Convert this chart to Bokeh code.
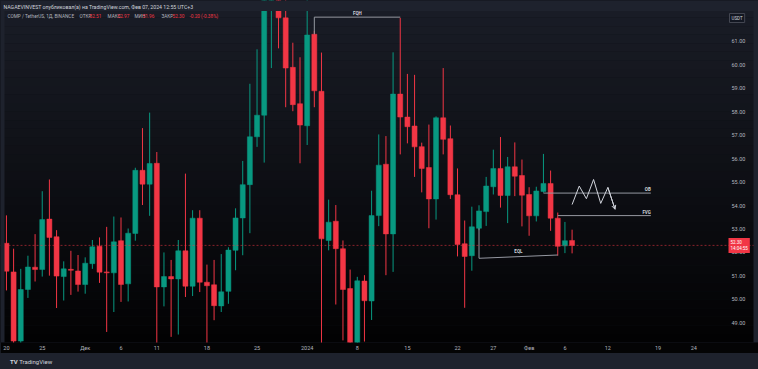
import numpy as np
import pandas as pd
from bokeh.plotting import figure
from bokeh.models import (FixedTicker, NumeralTickFormatter, Span, Label, BoxAnnotation,
                          Arrow, OpenHead, ColumnDataSource, Div, GlobalInlineStyleSheet)
from bokeh.layouts import column
from bokeh.embed import file_html
from bokeh.resources import INLINE
from bokeh.core.properties import value

# ---------------- data ----------------
start_date = "2023-11-20"
opens = [52.39, 51.17, 48.22, 50.42, 51.37, 51.27, 53.42, 52.67, 50.97, 51.28,
         51.21, 50.63, 51.52, 52.26, 51.17, 51.13, 52.50, 50.66, 52.81, 55.50,
         54.91, 55.80, 50.53, 50.97, 50.87, 52.07, 50.56, 53.46, 50.73, 50.62,
         49.72, 50.34, 52.09, 53.47, 54.89, 56.93, 57.85, 62.95, 63.10, 62.00,
         59.89, 58.34, 57.40, 61.30, 58.87, 52.51, 53.33, 52.16, 50.46, 48.10,
         50.78, 49.93, 53.57, 55.76, 52.79, 58.75, 57.77, 57.39, 56.51, 55.62,
         54.28, 57.74, 56.85, 54.46, 52.37, 51.86, 53.03, 53.74, 54.80, 55.58,
         54.43, 55.65, 55.28, 54.47, 53.56, 54.60, 54.94, 53.46, 52.28, 52.51]
highs = [53.58, 52.16, 51.30, 51.86, 52.78, 54.61, 55.11, 52.95, 51.62, 52.07,
         51.89, 51.79, 52.53, 52.64, 53.09, 53.53, 53.49, 53.02, 55.61, 57.30,
         57.96, 56.28, 52.00, 51.68, 52.53, 55.36, 53.80, 53.80, 51.48, 51.68,
         51.93, 52.22, 53.88, 55.90, 59.19, 60.66, 63.20, 63.30, 63.00, 62.90,
         60.94, 60.32, 62.90, 61.45, 60.52, 54.25, 54.02, 52.51, 51.27, 50.96,
         51.03, 54.63, 57.03, 56.96, 60.53, 62.00, 59.61, 59.57, 56.68, 57.45,
         57.80, 59.86, 57.41, 55.58, 53.36, 53.95, 54.01, 55.22, 56.38, 56.92,
         56.07, 56.69, 55.96, 54.78, 54.80, 56.20, 55.49, 53.70, 53.30, 52.97]
lows = [50.38, 47.90, 47.90, 50.06, 50.76, 50.97, 51.01, 49.63, 49.95, 50.19,
        50.33, 50.24, 51.30, 50.70, 48.61, 49.46, 49.89, 49.91, 52.50, 54.02,
        53.56, 48.05, 49.70, 48.40, 48.50, 50.10, 50.14, 50.31, 48.05, 49.11,
        49.46, 49.81, 51.24, 51.88, 52.82, 56.50, 55.83, 59.86, 60.70, 58.19,
        58.02, 55.80, 56.58, 58.19, 48.05, 52.09, 49.78, 48.25, 47.90, 47.90,
        48.20, 49.12, 53.12, 51.03, 51.17, 56.18, 56.65, 55.22, 54.56, 53.03,
        53.40, 56.18, 54.28, 51.83, 49.64, 51.22, 52.95, 53.13, 54.47, 53.91,
        53.25, 54.40, 53.11, 52.71, 53.32, 54.55, 52.92, 51.86, 51.97, 51.96]
closes = [51.20, 48.22, 50.42, 51.38, 51.27, 53.40, 52.64, 50.99, 51.30, 51.24,
          50.63, 51.54, 52.24, 51.16, 51.13, 52.45, 50.63, 52.82, 55.50, 54.91,
          55.79, 50.53, 50.97, 50.87, 52.07, 50.56, 53.46, 50.73, 50.58, 49.73,
          50.32, 52.10, 53.47, 54.89, 56.93, 57.85, 62.95, 63.10, 62.00, 59.86,
          58.30, 57.43, 61.27, 58.89, 52.58, 53.29, 52.16, 50.42, 48.10, 50.79,
          49.94, 53.57, 55.72, 52.79, 58.75, 57.77, 57.36, 56.50, 55.58, 54.28,
          57.74, 56.82, 54.46, 52.34, 51.83, 53.09, 53.77, 54.83, 55.58, 54.43,
          55.65, 55.25, 54.44, 53.56, 54.62, 54.94, 53.46, 52.26, 52.50, 52.30]

tick_dates = ["2023-11-20", "2023-11-25", "2023-12-01", "2023-12-06", "2023-12-11",
              "2023-12-18", "2023-12-25", "2024-01-01", "2024-01-08", "2024-01-15",
              "2024-01-22", "2024-01-27", "2024-02-01", "2024-02-06", "2024-02-12",
              "2024-02-19", "2024-02-24"]
tick_labels = ["20", "25", "Дек", "6", "11", "18", "25", "2024", "8", "15",
               "22", "27", "Фев", "6", "12", "19", "24"]
price_ticks = [49, 50, 51, 52, 53, 54, 55, 56, 57, 58, 59, 60, 61]

# drawings on the chart (time, price)
fqh_dates = ["2024-01-02", "2024-01-02", "2024-01-14"]
fqh_prices = [61.30, 62.03, 62.03]
eql_dates = ["2024-01-25", "2024-01-25", "2024-02-05"]
eql_prices = [53.03, 51.75, 51.89]
ob_dates = ["2024-02-03", "2024-02-18"]
ob_price = 54.53
fvg_dates = ["2024-02-05", "2024-02-18"]
fvg_price = 53.57
path_dates = ["2024-02-07", "2024-02-08", "2024-02-09", "2024-02-10",
              "2024-02-11", "2024-02-12", "2024-02-13"]
path_prices = [54.04, 54.83, 54.29, 55.11, 54.09, 54.77, 53.84]

# ---------------- helpers ----------------
REF = pd.Timestamp("2024-01-01")


def to_days(ds):
    return [(pd.Timestamp(d) - REF).days for d in ds]


dates = pd.date_range(start_date, periods=len(opens), freq="D")
days = np.array([(d - REF).days for d in dates], dtype=float)
o = np.array(opens); h = np.array(highs); l = np.array(lows); c = np.array(closes)
up = c >= o

UP = "#089981"
DOWN = "#f23645"
TXT = "#b2b5be"
FONT = "Roboto"
BAND = "#1e222d"

W, H = 758, 353
FRAME_H = 344
X0 = -42.83
X1 = X0 + W / 7.16
Y0, Y1 = 48.16, 62.74
ppu = FRAME_H / (Y1 - Y0)

p = figure(width=W, height=H, x_range=(X0, X1), y_range=(Y0, Y1),
           output_backend="svg", toolbar_location=None, y_axis_location="right",
           min_border_left=0, min_border_top=0, min_border_right=0,
           min_border_bottom=H - FRAME_H)
p.outline_line_color = None
p.grid.visible = False
p.background_fill_color = "#0e1016"
p.border_fill_color = "#040405"

# vertical gradient of the TradingView dark theme
top_rgb = np.array([26, 29, 39])
bot_rgb = np.array([2, 2, 3])
n_bands = 40
step = (Y1 - Y0) / n_bands
for i in range(n_bands):
    t = (i + 0.5) / n_bands
    rgb = (top_rgb * (1 - t) + bot_rgb * t).round().astype(int)
    col = "#%02x%02x%02x" % tuple(rgb)
    p.add_layout(BoxAnnotation(top=Y1 - i * step + 0.001, bottom=Y1 - (i + 1) * step - 0.001,
                               fill_color=col, fill_alpha=1.0, line_color=None,
                               level="underlay"))

# price line
p.add_layout(Span(location=closes[-1], dimension="width", line_color=DOWN,
                  line_alpha=0.55, line_width=1, line_dash="2 2"))

# candles
for mask, colr in ((up, UP), (~up, DOWN)):
    src = ColumnDataSource(dict(x=days[mask], h=h[mask], l=l[mask],
                                top=np.maximum(o, c)[mask], bot=np.minimum(o, c)[mask]))
    p.segment(x0="x", y0="h", x1="x", y1="l", source=src, line_color=colr, line_width=1)
    p.vbar(x="x", top="top", bottom="bot", width=0.7, source=src,
           fill_color=colr, line_color=colr, line_width=0.5)

# drawings
DRAW = "#9598a1"
p.line(to_days(fqh_dates), fqh_prices, line_color=DRAW, line_width=1)
p.line(to_days(eql_dates), eql_prices, line_color=DRAW, line_width=1)
p.line(to_days(ob_dates), [ob_price, ob_price], line_color=DRAW, line_width=1)
p.line(to_days(fvg_dates), [fvg_price, fvg_price], line_color=DRAW, line_width=1)
pd_days = to_days(path_dates)
p.line(pd_days, path_prices, line_color="#d1d4dc", line_width=1)
p.add_layout(Arrow(end=OpenHead(size=4, line_color="#d1d4dc", line_width=1),
                   x_start=pd_days[-2], y_start=path_prices[-2],
                   x_end=pd_days[-1], y_end=path_prices[-1],
                   line_color="#d1d4dc", line_width=1))

fqh_d = to_days(fqh_dates)
eql_d = to_days(eql_dates)
lbl_x = [(fqh_d[0] + fqh_d[-1]) / 2, (eql_d[0] + eql_d[-1]) / 2,
         to_days(ob_dates)[1], to_days(fvg_dates)[1]]
lbl_y = [fqh_prices[-1], eql_prices[-1], ob_price, fvg_price]
lbl_t = ["FQH", "EQL", "OB", "FVG"]
lbl_align = ["center", "center", "right", "right"]
p.text(x=lbl_x, y=lbl_y, text=lbl_t, text_align=lbl_align, text_baseline="bottom",
       y_offset=-1, text_color="#d1d4dc", text_font=value(FONT), text_font_size="4.5px",
       text_font_style="bold")

# frame edges (top header band, side strips)
p.add_layout(BoxAnnotation(bottom=Y1 - 10.5 / ppu, fill_color=BAND, fill_alpha=1.0,
                           line_color=None))
p.add_layout(BoxAnnotation(right=4, right_units="screen", fill_color=BAND, fill_alpha=1.0,
                           line_color=None))
p.add_layout(BoxAnnotation(left=W - 5, left_units="screen", fill_color=BAND, fill_alpha=1.0,
                           line_color=None))

# axes
p.yaxis.ticker = FixedTicker(ticks=price_ticks)
p.yaxis.formatter = NumeralTickFormatter(format="0.00")
p.xaxis.ticker = FixedTicker(ticks=to_days(tick_dates))
p.xaxis.major_label_overrides = {d: lab for d, lab in zip(to_days(tick_dates), tick_labels)}
for ax in (p.xaxis, p.yaxis):
    ax.axis_line_color = None
    ax.major_tick_line_color = None
    ax.minor_tick_line_color = None
    ax.major_tick_out = 0
    ax.minor_tick_out = 0
    ax.major_tick_in = 0
    ax.minor_tick_in = 0
    ax.major_label_text_color = TXT
    ax.major_label_text_font = FONT
    ax.major_label_text_font_size = "5.5px"
p.yaxis.major_label_standoff = -27
p.xaxis.major_label_standoff = 2

# header
hdr1 = "NAGAEVINVEST опубликовал(а) на TradingView.com, Фев 07, 2024 12:55 UTC+3"
chg = closes[-1] - closes[-2]
pct = chg / closes[-2] * 100
segments = [("COMP / TetherUS, 1Д, BINANCE", "#b2b5be", 7),
            ("ОТКР", "#b2b5be", 79), (f"{opens[-1]:.2f}", DOWN, 89),
            ("МАКС", "#b2b5be", 107), (f"{highs[-1]:.2f}", DOWN, 117),
            ("МИН", "#b2b5be", 134), (f"{lows[-1]:.2f}", DOWN, 142),
            ("ЗАКР", "#b2b5be", 161), (f"{closes[-1]:.2f}", DOWN, 172),
            (f"{chg:+.2f} ({pct:+.2f}%)", DOWN, 189)]
p.add_layout(Label(x=3, x_units="screen", y=Y1, y_offset=-3, text=hdr1, text_color="#d1d4dc",
                   text_font=FONT, text_font_size="5.2px", text_baseline="top"))
for t, col, xo in segments:
    p.add_layout(Label(x=xo, x_units="screen", y=Y1, y_offset=-13.5, text=t, text_color=col,
                       text_font=FONT, text_font_size="4.7px", text_baseline="top"))

# price scale badges
p.add_layout(Label(x=728, x_units="screen", y=closes[-1], text=f"{closes[-1]:.2f}\n14:04:55",
                   text_color="white", text_font=FONT, text_font_size="4.5px",
                   text_baseline="middle", background_fill_color=DOWN, padding=2))
p.add_layout(Label(x=729, x_units="screen", y=Y1, y_offset=-13, text="USDT",
                   text_color="#d1d4dc", text_font=FONT, text_font_size="4.5px",
                   text_baseline="top", background_fill_color="#131722",
                   border_line_color="#434651", padding=2))

footer = Div(text="<b>TV</b>&nbsp;TradingView", width=W, height=369 - H,
             styles={"color": "#d1d4dc", "font-size": "6px", "line-height": "8px",
                     "font-family": FONT, "padding-left": "5px"})

layout = column(p, footer, spacing=0,
                stylesheets=[GlobalInlineStyleSheet(css="html, body { background-color: #1e222d; }")])

open("out.html", "w").write(file_html(layout, INLINE))
